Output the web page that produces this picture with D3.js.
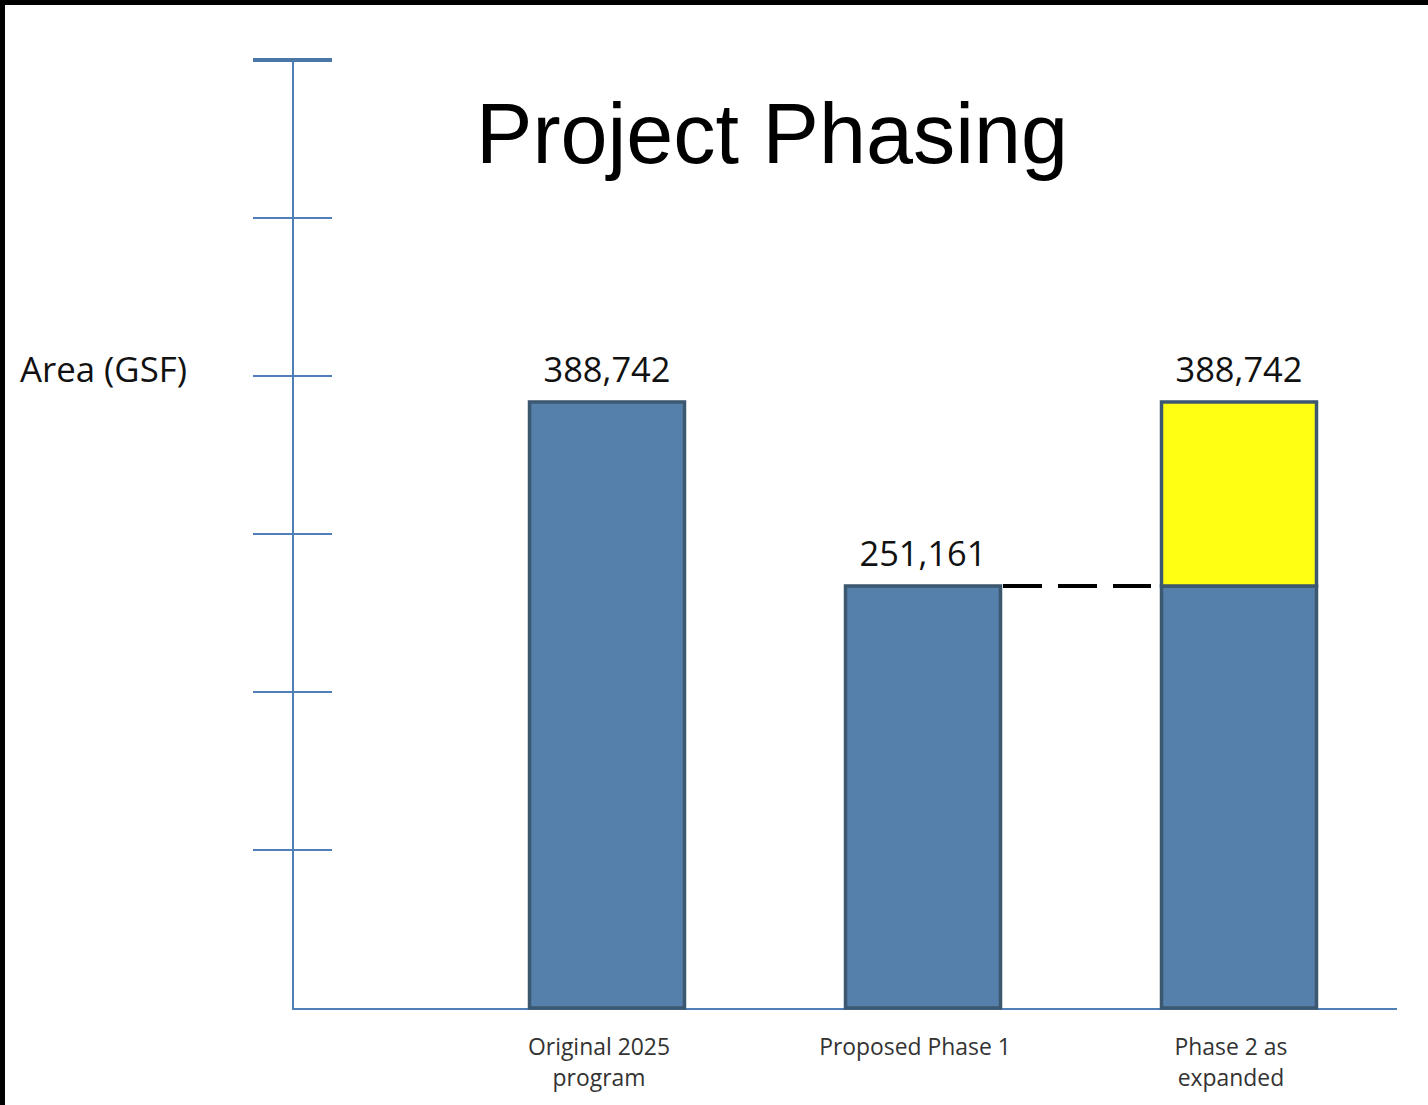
<!DOCTYPE html>
<html><head><meta charset="utf-8">
<script src="https://cdn.jsdelivr.net/npm/d3@7"></script>
<style>html,body{margin:0;padding:0;background:#fff;}svg{display:block;}</style>
</head><body>
<script>
const categories = ["Original 2025 program", "Proposed Phase 1", "Phase 2 as expanded"];
const categoryLines = [["Original 2025", "program"], ["Proposed Phase 1"], ["Phase 2 as", "expanded"]];
const baseValues = [388742, 251161, 251161];
const addedValues = [0, 0, 137581];
const totalLabels = ["388,742", "251,161", "388,742"];
const title = "Project Phasing";
const yLabel = "Area (GSF)";
const tickCount = 6;

const W = 1428, H = 1105;
const svg = d3.select("body").append("svg").attr("width", W).attr("height", H);
svg.append("rect").attr("width", W).attr("height", H).attr("fill", "#fff");
// frame
svg.append("rect").attr("x", 0).attr("y", 0).attr("width", W).attr("height", 5).attr("fill", "#000");
svg.append("rect").attr("x", 0).attr("y", 0).attr("width", 5).attr("height", H).attr("fill", "#000");

const baseY = 1008;
// linear value scale (schematic axis, baseline not at zero in the original drawing)
const y = d3.scaleLinear().domain([-64380, 644450]).range([baseY, 60]);
const x = d3.scaleBand().domain(categories).range([370, 1476]).paddingInner(0.5).paddingOuter(0.5);

const axisColor = "#4f7fb6";
svg.append("line").attr("x1", 293).attr("x2", 293).attr("y1", y.range()[1]).attr("y2", baseY + 2)
  .attr("stroke", axisColor).attr("stroke-width", 2);
const dom = y.domain();
const tickVals = d3.range(1, tickCount + 1).map(k => dom[0] + k * (dom[1] - dom[0]) / tickCount);
svg.selectAll(".tick").data(tickVals).join("line")
  .attr("x1", 253).attr("x2", 332)
  .attr("y1", d => y(d)).attr("y2", d => y(d))
  .attr("stroke", (d, i) => i === tickCount - 1 ? "#4a76a8" : axisColor)
  .attr("stroke-width", (d, i) => i === tickCount - 1 ? 4 : 2);
svg.append("line").attr("x1", 292).attr("x2", 1397).attr("y1", baseY + 1).attr("y2", baseY + 1)
  .attr("stroke", axisColor).attr("stroke-width", 2);

// bars
const barFill = "#5580ab", barStroke = "#3c5770";
const bw = x.bandwidth();
svg.selectAll(".bar").data(categories).join("rect")
  .attr("x", d => x(d) + 1.5).attr("width", bw - 3)
  .attr("y", (d, i) => y(baseValues[i]))
  .attr("height", (d, i) => baseY - y(baseValues[i]))
  .attr("fill", barFill).attr("stroke", barStroke).attr("stroke-width", 3.5);
const stacked = categories.map((c, i) => ({ c, i })).filter(d => addedValues[d.i] > 0);
svg.selectAll(".add").data(stacked).join("rect")
  .attr("x", d => x(d.c) + 1.5).attr("width", bw - 3)
  .attr("y", d => y(baseValues[d.i] + addedValues[d.i]))
  .attr("height", d => y(baseValues[d.i]) - y(baseValues[d.i] + addedValues[d.i]))
  .attr("fill", "#ffff14").attr("stroke", barStroke).attr("stroke-width", 3.5);

// dashed connector
svg.append("line")
  .attr("x1", x(categories[1]) + bw + 1).attr("x2", x(categories[2]) - 9)
  .attr("y1", y(baseValues[1])).attr("y2", y(baseValues[1]))
  .attr("stroke", "#000").attr("stroke-width", 4).attr("stroke-dasharray", "39,16");

const font = "'Open Sans', sans-serif";
function fit(sel, target) {
  const w = sel.node().getComputedTextLength();
  const fs = parseFloat(sel.attr("font-size"));
  sel.attr("font-size", fs * target / w);
}
// value labels
svg.selectAll(".val").data(categories).join("text")
  .attr("x", d => x(d) + bw / 2).attr("y", (d, i) => y(baseValues[i] + addedValues[i]) - 20)
  .attr("text-anchor", "middle").attr("font-family", font).attr("font-size", 32).attr("fill", "#111")
  .text((d, i) => totalLabels[i])
  .each(function () { fit(d3.select(this), 127); });

// category labels
const catSize = 22.9;
categories.forEach((c, i) => {
  categoryLines[i].forEach((ln, j) => {
    svg.append("text").attr("x", x(c) + bw / 2 - 8).attr("y", 1055 + j * 31)
      .attr("text-anchor", "middle").attr("font-family", font).attr("font-size", catSize).attr("fill", "#333")
      .text(ln);
  });
});

// title
const tt = svg.append("text").attr("x", 772).attr("y", 163).attr("text-anchor", "middle")
  .attr("font-family", "'Liberation Sans', Arial, sans-serif").attr("font-size", 85).attr("fill", "#000").text(title);
fit(tt, 592);

// y label
const yl = svg.append("text").attr("x", 20).attr("y", 382).attr("font-family", font)
  .attr("font-size", 30).attr("fill", "#111").text(yLabel);
fit(yl, 167);
</script>
</body></html>
